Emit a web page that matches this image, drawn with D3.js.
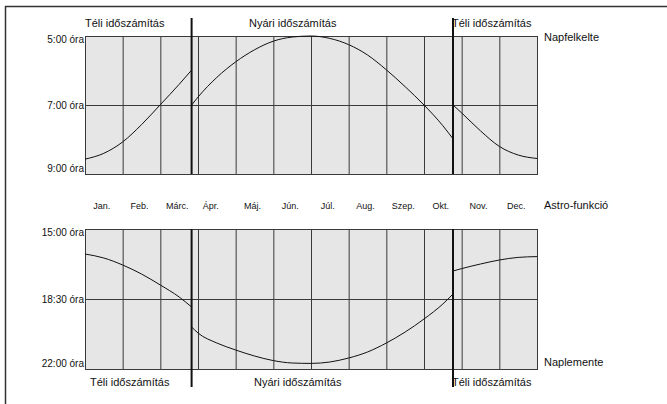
<!DOCTYPE html>
<html>
<head>
<meta charset="utf-8">
<script src="https://cdn.jsdelivr.net/npm/d3@7"></script>
<style>
  body { margin: 0; background: #fff; }
  svg { display: block; font-family: "Liberation Sans", Arial, sans-serif; }
</style>
</head>
<body>
<svg id="chart" width="667" height="404"></svg>
<script>
// month labels on the middle band
const months = ["Jan.", "Feb.", "Márc.", "Ápr.", "Máj.", "Jún.", "Júl.", "Aug.", "Szep.", "Okt.", "Nov.", "Dec."];

// daylight saving switch dates, in months from Jan 1
const dstStart = 2.83;
const dstEnd = 9.77;

// sunrise, hours (top panel) - [month, hour]
const sunriseWinter1 = [[0, 8.57], [0.5, 8.4], [1, 8.07], [1.5, 7.57], [2, 6.99], [2.5, 6.4], [2.83, 5.99]];
const sunriseSummer = [[2.83, 7.0], [3, 6.77], [3.5, 6.2], [4, 5.75], [4.5, 5.4], [5, 5.15], [5.5, 5.03], [6, 5.0],
  [6.5, 5.07], [7, 5.25], [7.5, 5.55], [8, 5.98], [8.5, 6.47], [9, 7.0], [9.5, 7.6], [9.77, 7.98]];
const sunriseWinter2 = [[9.77, 7.0], [10, 7.23], [10.5, 7.75], [11, 8.2], [11.5, 8.45], [12, 8.55]];

// sunset, hours (bottom panel)
const sunsetWinter1 = [[0, 16.25], [0.5, 16.45], [1, 16.8], [1.5, 17.25], [2, 17.8], [2.5, 18.4], [2.83, 18.9]];
const sunsetSummer = [[2.83, 19.9], [3, 20.2], [3.5, 20.7], [4, 21.05], [4.5, 21.35], [5, 21.58], [5.5, 21.7], [6, 21.72],
  [6.5, 21.65], [7, 21.45], [7.5, 21.15], [8, 20.7], [8.5, 20.15], [9, 19.5], [9.5, 18.75], [9.77, 18.25]];
const sunsetWinter2 = [[9.77, 17.1], [10, 16.98], [10.5, 16.75], [11, 16.55], [11.5, 16.42], [12, 16.38]];

// y tick labels
const sunriseTicks = [5, 7, 9];
const sunriseTickLabels = ["5:00 óra", "7:00 óra", "9:00 óra"];
const sunsetTicks = [15, 18.5, 22];
const sunsetTickLabels = ["15:00 óra", "18:30 óra", "22:00 óra"];

const svg = d3.select("#chart");

// outer frame (only top and left edges visible)
svg.append("line").attr("x1", 5).attr("x2", 667).attr("y1", 6.5).attr("y2", 6.5)
  .attr("stroke", "#333").attr("stroke-width", 1.5);
svg.append("line").attr("x1", 5.5).attr("x2", 5.5).attr("y1", 6).attr("y2", 404)
  .attr("stroke", "#333").attr("stroke-width", 1.5);

const x = d3.scaleLinear().domain([0, 12]).range([85, 537]);
const yTop = d3.scaleLinear().domain([5, 9]).range([36, 174]);
const yBot = d3.scaleLinear().domain([15, 22]).range([229, 369]);

function panel(y, ticks, tickLabels, segments) {
  const [y0, y1] = y.range();
  const g = svg.append("g");
  g.append("rect").attr("x", x(0)).attr("y", y0).attr("width", x(12) - x(0)).attr("height", y1 - y0)
    .attr("fill", "#e6e6e6");

  // month grid
  g.selectAll(".vgrid").data(d3.range(1, 12)).enter().append("line")
    .attr("x1", (d) => x(d) + 0.5).attr("x2", (d) => x(d) + 0.5)
    .attr("y1", y0).attr("y2", y1)
    .attr("stroke", "#3a3a3a").attr("stroke-width", 1);

  // middle hour line
  g.append("line").attr("x1", x(0)).attr("x2", x(12))
    .attr("y1", Math.round(y(ticks[1])) + 0.5).attr("y2", Math.round(y(ticks[1])) + 0.5)
    .attr("stroke", "#3a3a3a").attr("stroke-width", 1);

  g.append("rect").attr("x", x(0) + 0.5).attr("y", y0 + 0.5).attr("width", x(12) - x(0)).attr("height", y1 - y0)
    .attr("fill", "none").attr("stroke", "#3a3a3a").attr("stroke-width", 1);

  // tick labels
  const dys = [7, 4, -2];
  g.selectAll(".ylab").data(ticks).enter().append("text")
    .attr("x", x(0) - 1)
    .attr("y", (d, i) => i === 0 ? y0 + dys[0] : i === 2 ? y1 + dys[2] : y(d) + dys[1])
    .attr("text-anchor", "end").attr("font-size", 10).attr("fill", "#111")
    .text((d, i) => tickLabels[i]);

  const line = d3.line().x((d) => x(d[0])).y((d) => y(d[1])).curve(d3.curveMonotoneX);
  segments.forEach((s) => {
    g.append("path").datum(s).attr("fill", "none").attr("stroke", "#111").attr("stroke-width", 1).attr("d", line);
  });
}

panel(yTop, sunriseTicks, sunriseTickLabels, [sunriseWinter1, sunriseSummer, sunriseWinter2]);
panel(yBot, sunsetTicks, sunsetTickLabels, [sunsetWinter1, sunsetSummer, sunsetWinter2]);

// daylight saving switch lines
[dstStart, dstEnd].forEach((m) => {
  svg.append("line").attr("x1", x(m)).attr("x2", x(m)).attr("y1", 18).attr("y2", 174)
    .attr("stroke", "#111").attr("stroke-width", 2);
  svg.append("line").attr("x1", x(m)).attr("x2", x(m)).attr("y1", 229).attr("y2", 387)
    .attr("stroke", "#111").attr("stroke-width", 2);
});

// month labels
svg.selectAll(".month").data(months).enter().append("text")
  .attr("x", (d, i) => x(i + 0.5) - (i === 3 ? 6 : 2)).attr("y", 209)
  .attr("text-anchor", "middle").attr("font-size", 9).attr("fill", "#111")
  .text((d) => d);

// header / footer texts
const notes = [
  { t: "Téli időszámítás", x: 85, y: 27 },
  { t: "Nyári időszámítás", x: 249, y: 27 },
  { t: "Téli időszámítás", x: 452, y: 27 },
  { t: "Napfelkelte", x: 544, y: 41 },
  { t: "Astro-funkció", x: 544, y: 209 },
  { t: "Naplemente", x: 544, y: 366 },
  { t: "Téli időszámítás", x: 90, y: 386 },
  { t: "Nyári időszámítás", x: 254, y: 386 },
  { t: "Téli időszámítás", x: 452, y: 386 }
];
svg.selectAll(".note").data(notes).enter().append("text")
  .attr("x", (d) => d.x).attr("y", (d) => d.y)
  .attr("font-size", 11).attr("fill", "#111")
  .text((d) => d.t);
</script>
</body>
</html>
